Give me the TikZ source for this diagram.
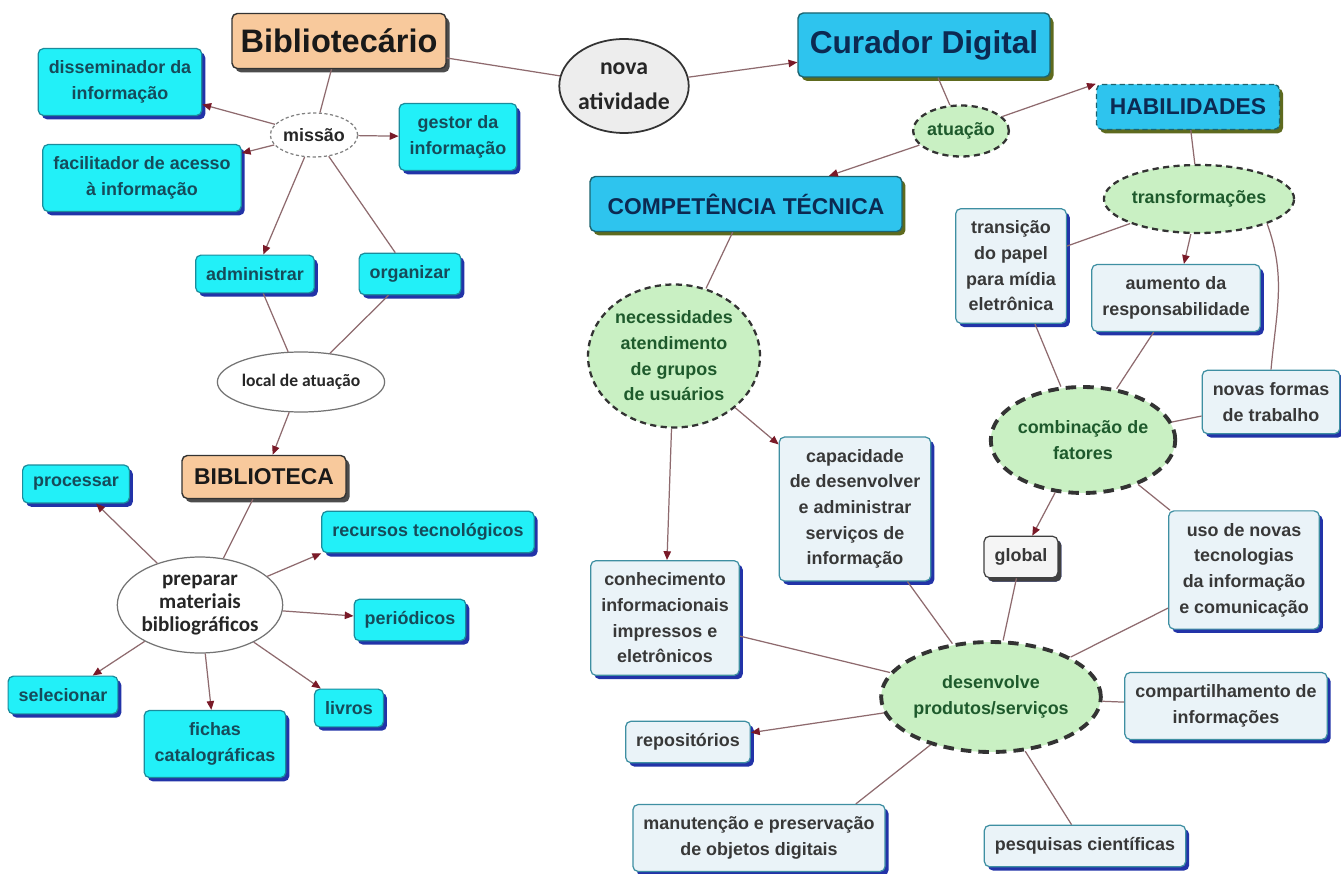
\documentclass[tikz,border=0pt]{standalone}
\usepackage{fontspec}
\setmainfont{Liberation Sans}
\newfontfamily\calib{Carlito}
\usetikzlibrary{shapes.geometric}
\usetikzlibrary{shadows}
\usetikzlibrary{arrows.meta}

\definecolor{boxcyan}{HTML}{22F0F8}
\definecolor{cyanedge}{HTML}{1B8C9C}
\definecolor{cyantext}{HTML}{164B5A}
\definecolor{shadowblue}{HTML}{2233A8}
\definecolor{peach}{HTML}{F8C99C}
\definecolor{titleblue}{HTML}{2EC4EE}
\definecolor{titleedge}{HTML}{1C6470}
\definecolor{titletext}{HTML}{0C2A52}
\definecolor{olive}{HTML}{5E6A1E}
\definecolor{paleblue}{HTML}{EAF3F8}
\definecolor{paleedge}{HTML}{3E8FA2}
\definecolor{greytext}{HTML}{383838}
\definecolor{mint}{HTML}{C9F0C3}
\definecolor{minttext}{HTML}{1E5A2C}
\definecolor{linkcol}{HTML}{8E6A6E}
\definecolor{tipred}{HTML}{7A1A28}

\tikzset{
  bodytext/.style={font=\bfseries\fontsize{10.2}{14.6}\selectfont, align=center},
  cyanbox/.style={bodytext, rectangle, rounded corners=3pt, draw=cyanedge, line width=0.7pt, fill=boxcyan, text=cyantext, inner xsep=6pt, inner ysep=7pt, drop shadow={shadow xshift=2pt, shadow yshift=-2.2pt, fill=shadowblue, opacity=1}},
  palebox/.style={cyanbox, draw=paleedge, fill=paleblue, text=greytext},
  peachbox/.style={rectangle, rounded corners=3pt, draw=black!80, line width=0.8pt, fill=peach, text=black!90, inner sep=0pt, drop shadow={shadow xshift=2pt, shadow yshift=-2.2pt, fill=black!70, opacity=1}},
  titlebox/.style={rectangle, rounded corners=3pt, draw=titleedge, line width=0.8pt, fill=titleblue, text=titletext, inner sep=0pt, drop shadow={shadow xshift=2pt, shadow yshift=-2.2pt, fill=olive, opacity=1}},
  mintell/.style={bodytext, ellipse, draw=black!80, dash pattern=on 3.5pt off 2.5pt, line width=1.3pt, fill=mint, text=minttext, inner sep=0pt},
  boldell/.style={mintell, line width=2.2pt, dash pattern=on 6pt off 4pt},
  plainell/.style={ellipse, draw=black!55, line width=0.7pt, fill=white, text=black!85, inner sep=0pt, align=center},
  link/.style={draw=linkcol, line width=0.7pt},
  arrowlink/.style={link, -{Triangle[length=5pt,width=4.2pt,color=tipred]}},
}

\begin{document}
\begin{tikzpicture}[x=0.02cm, y=-0.02cm]
\fill[white] (0,0) rectangle (1341,874);
\useasboundingbox (0,0) rectangle (1341,874);

\node[peachbox, minimum width=4.28cm, minimum height=1.1cm, font=\bfseries\fontsize{18.5}{22}\selectfont] (biblio) at (339,41) {Bibliotecário};
\node[plainell, draw=black!50, dash pattern=on 1.8pt off 1.4pt, minimum width=1.5cm, minimum height=0.88cm, font=\bfseries\fontsize{10.2}{12}\selectfont] (missao) at (314,135) {missão};
\node[cyanbox] (diss) at (120,82) {disseminador da\\informação};
\node[cyanbox] (gestor) at (458,137) {gestor da\\informação};
\node[cyanbox] (facil) at (142,178) {facilitador de acesso\\à informação};
\node[cyanbox] (admin) at (255,274) {administrar};
\node[cyanbox] (organ) at (410,274) {organizar};
\node[plainell, minimum width=2.6cm, minimum height=1.2cm, font=\calib\bfseries\fontsize{10}{12}\selectfont] (local) at (301,382) {local de atuação};
\node[peachbox, minimum width=3.28cm, minimum height=0.86cm, font=\bfseries\fontsize{13}{15}\selectfont] (bibliot) at (264,477) {BIBLIOTECA};
\node[cyanbox] (proc) at (76,484) {processar};
\node[cyanbox] (recur) at (428,532) {recursos tecnológicos};
\node[plainell, minimum width=2.72cm, minimum height=1.92cm, font=\calib\bfseries\fontsize{12}{13}\selectfont] (prep) at (200,605) {preparar\\materiais\\bibliográficos};
\node[cyanbox] (perio) at (410,620) {periódicos};
\node[cyanbox] (selec) at (63,695) {selecionar};
\node[cyanbox] (fichas) at (215,744) {fichas\\catalográficas};
\node[cyanbox] (livros) at (349,708) {livros};

\node[plainell, draw=black!80, line width=1pt, fill=black!7, minimum width=2.46cm, minimum height=1.88cm, font=\calib\bfseries\fontsize{13.5}{20}\selectfont] (nova) at (624,86) {nova\\atividade};
\node[titlebox, minimum width=5.04cm, minimum height=1.28cm, font=\bfseries\fontsize{18}{21}\selectfont] (curador) at (924,45) {Curador Digital};
\node[mintell, minimum width=1.72cm, minimum height=1.02cm] (atuacao) at (961,131) {atuação};
\node[titlebox, dash pattern=on 3pt off 2pt, minimum width=3.66cm, minimum height=0.9cm, font=\bfseries\fontsize{13}{15}\selectfont] (habil) at (1188,107) {HABILIDADES};
\node[titlebox, minimum width=6.24cm, minimum height=1.1cm, font=\bfseries\fontsize{13}{15}\selectfont] (compet) at (746,204) {COMPETÊNCIA TÉCNICA};
\node[mintell, minimum width=2.96cm, minimum height=1.36cm] (transf) at (1199,199) {transformações};
\node[palebox] (transic) at (1011,266) {transição\\do papel\\para mídia\\eletrônica};
\node[palebox] (aument) at (1176,298) {aumento da\\responsabilidade};
\node[palebox] (novas) at (1271,402) {novas formas\\de trabalho};
\node[mintell, minimum width=3.44cm, minimum height=2.86cm] (necess) at (674,356) {necessidades\\atendimento\\de grupos\\de usuários};
\node[boldell, minimum width=3.06cm, minimum height=2.12cm] (combin) at (1083,440) {combinação de\\fatores};
\node[palebox] (capac) at (855,509) {capacidade\\de desenvolver\\e administrar\\serviços de\\informação};
\node[palebox] (uso) at (1244,570) {uso de novas\\tecnologias\\da informação\\e comunicação};
\node[palebox, draw=black!75, fill=black!4, drop shadow={shadow xshift=2pt, shadow yshift=-2.2pt, fill=black!75, opacity=1}] (global) at (1021,557) {global};
\node[palebox] (conhec) at (665,618) {conhecimento\\informacionais\\impressos e\\eletrônicos};
\node[boldell, minimum width=3.68cm, minimum height=2.2cm] (desenv) at (991,697) {desenvolve\\produtos/serviços};
\node[palebox] (compart) at (1226,706) {compartilhamento de\\informações};
\node[palebox] (repos) at (688,742) {repositórios};
\node[palebox] (manut) at (759,838) {manutenção e preservação\\de objetos digitais};
\node[palebox] (pesq) at (1085,846) {pesquisas científicas};

\draw[link] (biblio) -- (missao);
\draw[arrowlink] (missao) -- (diss);
\draw[arrowlink] (missao) -- (facil);
\draw[arrowlink] (missao) -- (gestor);
\draw[arrowlink] (missao) -- (admin);
\draw[link] (missao) -- (organ);
\draw[link] (admin) -- (local);
\draw[link] (organ) -- (local);
\draw[arrowlink] (local) -- (bibliot);
\draw[link] (bibliot) -- (prep);
\draw[arrowlink] (prep) -- (proc);
\draw[arrowlink] (prep) -- (recur.south west);
\draw[arrowlink] (prep) -- (perio);
\draw[arrowlink] (prep) -- (selec);
\draw[arrowlink] (prep) -- (fichas);
\draw[arrowlink] (prep) -- (livros);

\draw[link] (biblio) -- (nova);
\draw[arrowlink] (nova) -- (curador);
\draw[link] (curador) -- (atuacao);
\draw[arrowlink] (atuacao) -- (habil.north west);
\draw[arrowlink] (atuacao) -- (compet);
\draw[link] (compet) -- (necess);
\draw[arrowlink] (necess) -- (capac);
\draw[arrowlink] (necess) -- (conhec);
\draw[link] (habil) -- (transf);
\draw[link] (transf) -- (transic);
\draw[arrowlink] (transf) -- (aument);
\draw[link] (transf.-20) to[out=-70,in=85] (novas.north);
\draw[link] (transic) -- (combin);
\draw[link] (aument) -- (combin);
\draw[link] (novas) -- (combin);
\draw[arrowlink] (combin) -- (global);
\draw[link] (combin) -- (uso);
\draw[link] (capac) -- (desenv);
\draw[link] (global) -- (desenv);
\draw[link] (uso) -- (desenv);
\draw[link] (conhec) -- (desenv);
\draw[link] (desenv) -- (compart);
\draw[arrowlink] (desenv) -- (repos);
\draw[link] (desenv) -- ([xshift=-17pt]manut.north east);
\draw[link] (desenv) -- (pesq);
\end{tikzpicture}
\end{document}
